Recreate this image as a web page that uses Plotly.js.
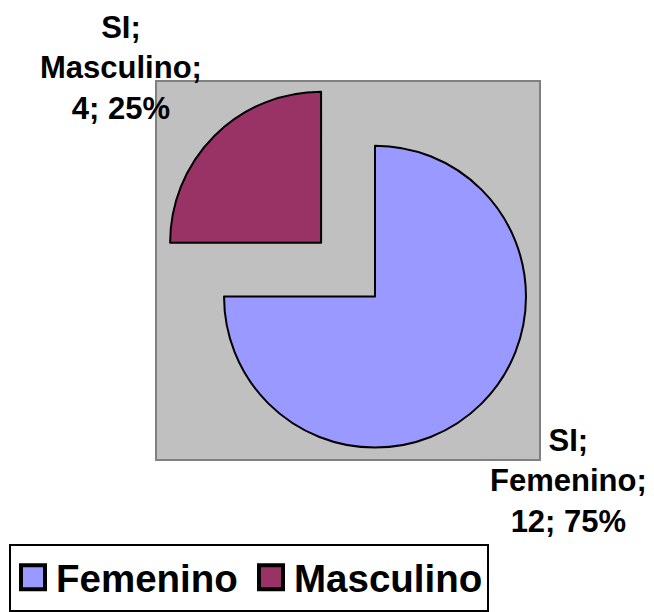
<!DOCTYPE html>
<html>
<head>
<meta charset="utf-8">
<script src="https://cdn.plot.ly/plotly-3.0.1.min.js"></script>
<style>html,body{margin:0;padding:0;background:#fff;} #chart{width:654px;height:612px;}</style>
</head>
<body>
<div id="chart"></div>
<script>
var groupLabel = "SI";
var categories = ["Femenino", "Masculino"];
var values = [12, 4];
var colors = ["#9999FF", "#993366"];
var pulls = [0, 0.505];

var total = values.reduce(function (a, b) { return a + b; }, 0);
function labelText(i) {
  var pct = Math.round(values[i] / total * 100);
  return "<b>" + groupLabel + ";<br>" + categories[i] + ";<br>" + values[i] + "; " + pct + "%</b>";
}
var legendLabels = categories.map(function (c) { return "<b>" + c + "</b>"; });

var FONT = "Liberation Sans, Arial, sans-serif";

var data = [{
  type: "pie",
  labels: legendLabels,
  values: values,
  sort: false,
  direction: "clockwise",
  rotation: 0,
  pull: pulls,
  textinfo: "none",
  hoverinfo: "label+value+percent",
  marker: { colors: colors, line: { color: "#000000", width: 2 } },
  domain: { x: [0.2213, 0.9255], y: [0.1327, 0.8851] }
}];

var layout = {
  width: 654,
  height: 612,
  margin: { l: 0, r: 0, t: 0, b: 0 },
  paper_bgcolor: "#ffffff",
  showlegend: true,
  legend: {
    orientation: "h",
    x: 9 / 654, xanchor: "left",
    y: 1 - 551 / 612, yanchor: "top",
    bordercolor: "#000000",
    borderwidth: 2,
    bgcolor: "#ffffff",
    itemwidth: 35,
    entrywidth: 188,
    entrywidthmode: "pixels",
    font: { family: FONT, size: 38.5, color: "#000000" }
  },
  shapes: [{
    type: "rect", xref: "paper", yref: "paper", layer: "below",
    x0: 156 / 654, x1: 540 / 654, y0: 1 - 466 / 612, y1: 1 - 82 / 612,
    fillcolor: "#C0C0C0", line: { color: "#808080", width: 2 }
  }],
  annotations: [
    {
      text: labelText(1), xref: "paper", yref: "paper",
      x: 121 / 654, y: 1 - 8 / 612, xanchor: "center", yanchor: "top",
      showarrow: false, align: "center",
      font: { family: FONT, size: 31, color: "#000000" }
    },
    {
      text: labelText(0), xref: "paper", yref: "paper",
      x: 568 / 654, y: 1 - 427 / 612, xanchor: "center", yanchor: "top",
      showarrow: false, align: "center",
      font: { family: FONT, size: 31, color: "#000000" }
    }
  ]
};

Plotly.newPlot("chart", data, layout, { displayModeBar: false, staticPlot: true }).then(function () {
  var pts = document.querySelectorAll(".legendpoints path");
  pts.forEach(function (p) { p.setAttribute("transform", "translate(22,0) scale(2)"); });
});
</script>
</body>
</html>
